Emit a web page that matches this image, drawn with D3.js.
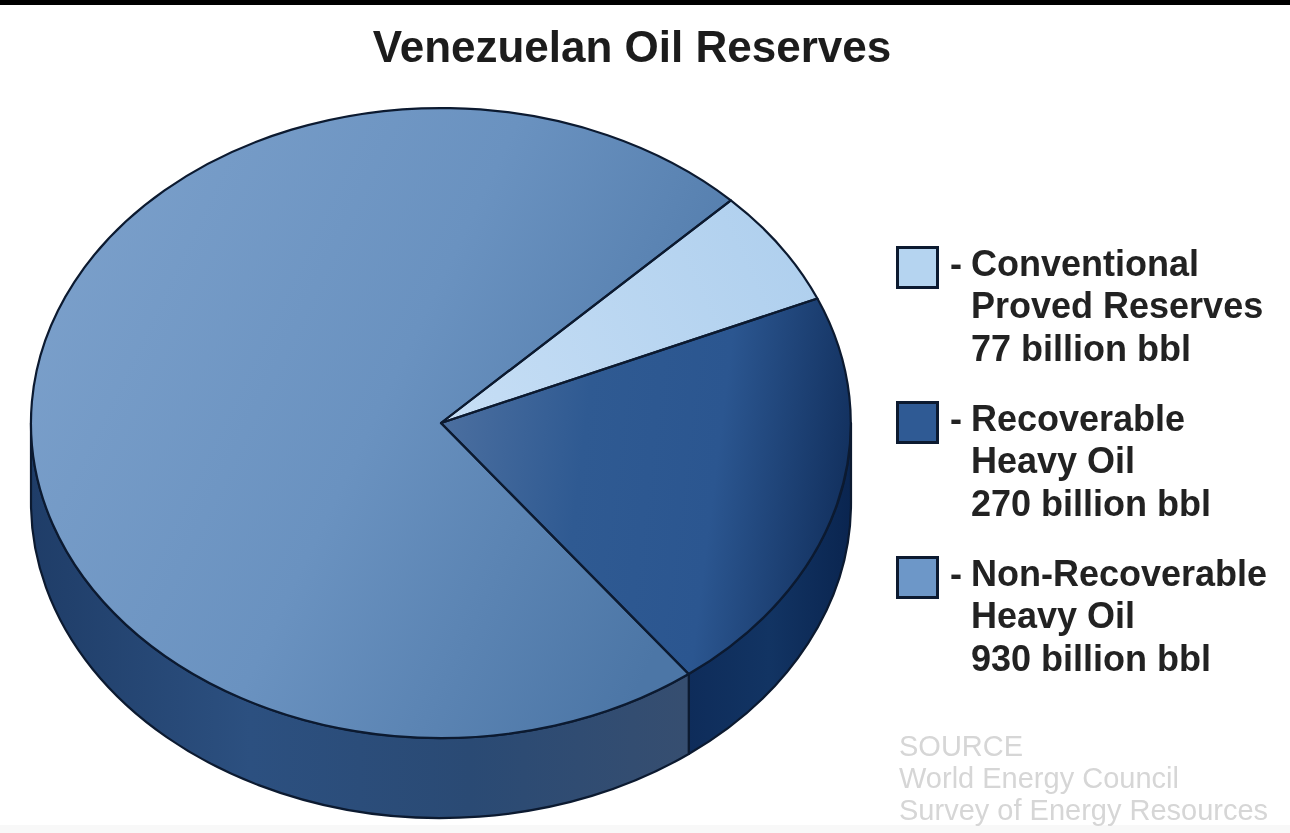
<!DOCTYPE html>
<html>
<head>
<meta charset="utf-8">
<script src="https://cdn.jsdelivr.net/npm/d3@7/dist/d3.min.js"></script>
<style>
html,body{margin:0;padding:0;background:#fff;overflow:hidden}
svg{display:block}
text{font-family:"Liberation Sans",Arial,sans-serif}
</style>
</head>
<body>
<svg id="chart" width="1290" height="833"></svg>
<script>
const title = "Venezuelan Oil Reserves";
const categories = ["Conventional Proved Reserves", "Recoverable Heavy Oil", "Non-Recoverable Heavy Oil"];
const reserves = [77, 270, 930];
const legendLines = [
  ["Conventional", "Proved Reserves", "77 billion bbl"],
  ["Recoverable", "Heavy Oil", "270 billion bbl"],
  ["Non-Recoverable", "Heavy Oil", "930 billion bbl"]
];
const sourceLines = ["SOURCE", "World Energy Council", "Survey of Energy Resources"];
const topStops = [["#c6def5", "#b0d0ee"], ["#4a6e9f", "#2f5a92", "#2b5690", "#12305e"], ["#7a9fca", "#6a92c0", "#4c76a6"]];
const wallStops = [["#8aa8c8", "#8aa8c8"], ["#0e2c5a", "#123463", "#0a2550"], ["#1f3d68", "#2c5080", "#2a4a74", "#364e70"]];
const swatchColors = ["#b5d4f0", "#2f5a94", "#6d97c8"];

const W = 1290, H = 833;
const cx = 441, cy = 423, rx = 410, ry = 315, depth = 80;
const outline = "#0c1a30";
const svg = d3.select("#chart");
const defs = svg.append("defs");

defs.append("filter").attr("id", "soft").attr("x", "-5%").attr("y", "-20%").attr("width", "110%").attr("height", "140%")
  .append("feGaussianBlur").attr("stdDeviation", 0.7);

const pie = d3.pie().sort(null).value(d => d)
  .startAngle(Math.PI / 4).endAngle(Math.PI / 4 + 2 * Math.PI);
const arcs = pie(reserves);

function grad(id, stops, x1, y1, x2, y2) {
  const g = defs.append("linearGradient").attr("id", id)
    .attr("gradientUnits", "userSpaceOnUse")
    .attr("x1", x1).attr("y1", y1).attr("x2", x2).attr("y2", y2);
  stops.forEach((s, i) => g.append("stop").attr("offset", i / (stops.length - 1)).attr("stop-color", s));
}
grad("top0", topStops[0], 450, 420, 800, 260);
grad("top1", topStops[1], 450, 420, 852, 470);
grad("top2", topStops[2], 60, 250, 700, 560);
grad("wall0", wallStops[0], cx - rx, 0, cx + rx, 0);
grad("wall1", wallStops[1], 688, 0, cx + rx, 0);
grad("wall2", wallStops[2], cx - rx, 0, 688, 0);

// page ground
svg.append("rect").attr("width", W).attr("height", H).attr("fill", "#fff");
svg.append("rect").attr("y", 825).attr("width", W).attr("height", 8).attr("fill", "#f8f8f8");
svg.append("rect").attr("width", W).attr("height", 5).attr("fill", "#000");

const px = a => cx + rx * Math.sin(a);
const py = a => cy - ry * Math.cos(a);

// side wall: only the front half of the ellipse (90deg to 270deg clockwise from north)
const front0 = Math.PI / 2, front1 = 3 * Math.PI / 2;
function wallPath(a0, a1) {
  const large = (a1 - a0) > Math.PI ? 1 : 0;
  return `M${px(a0)},${py(a0)}A${rx},${ry} 0 ${large} 1 ${px(a1)},${py(a1)}` +
         `L${px(a1)},${py(a1) + depth}A${rx},${ry} 0 ${large} 0 ${px(a0)},${py(a0) + depth}Z`;
}
const walls = arcs.map((d, i) => ({
  i,
  a0: Math.max(d.startAngle, front0),
  a1: Math.min(d.endAngle, front1)
})).filter(d => d.a1 > d.a0);

svg.append("g").selectAll("path").data(walls).join("path")
  .attr("d", d => wallPath(d.a0, d.a1))
  .attr("fill", d => `url(#wall${d.i})`)
  .attr("stroke", outline).attr("stroke-width", 2.2).attr("stroke-linejoin", "round");

// top face: unit-radius d3.arc clip shapes stretched onto the ellipse, painted with page-space gradients
const unitArc = d3.arc().innerRadius(0).outerRadius(1);
arcs.forEach((d, i) => {
  defs.append("clipPath").attr("id", "clip" + i)
    .append("path").attr("transform", `translate(${cx},${cy}) scale(${rx},${ry})`).attr("d", unitArc(d));
});
svg.append("g").selectAll("rect").data(arcs).join("rect")
  .attr("x", cx - rx).attr("y", cy - ry).attr("width", 2 * rx).attr("height", 2 * ry)
  .attr("clip-path", (d, i) => `url(#clip${i})`)
  .attr("fill", (d, i) => `url(#top${i})`);
svg.append("g").attr("transform", `translate(${cx},${cy}) scale(${rx},${ry})`)
  .selectAll("path").data(arcs).join("path")
  .attr("d", unitArc).attr("fill", "none")
  .attr("stroke", outline).attr("stroke-width", 2.2)
  .attr("vector-effect", "non-scaling-stroke").attr("stroke-linejoin", "round");

// title
svg.append("text").attr("x", 632).attr("y", 62).attr("text-anchor", "middle")
  .attr("font-size", 44).attr("font-weight", 700).attr("fill", "#1c1c1c")
  .attr("filter", "url(#soft)").text(title);

// legend
const legendY = d3.scalePoint().domain(categories).range([246, 556]);
const legend = svg.append("g").selectAll("g").data(categories).join("g")
  .attr("transform", d => `translate(896,${legendY(d)})`);
legend.append("rect").attr("x", 1.5).attr("y", 1.5).attr("width", 40).attr("height", 40)
  .attr("fill", (d, i) => swatchColors[i]).attr("stroke", outline).attr("stroke-width", 3);
legend.append("text").attr("x", 54).attr("y", 30)
  .attr("font-size", 36).attr("font-weight", 700).attr("fill", "#222")
  .attr("filter", "url(#soft)").text("-");
legend.each(function (d, i) {
  d3.select(this).selectAll("text.line").data(legendLines[i]).join("text")
    .attr("class", "line").attr("x", 75).attr("y", (l, j) => 29.5 + j * 42.5)
    .attr("font-size", 36).attr("font-weight", 700).attr("fill", "#222")
    .attr("filter", "url(#soft)").text(l => l);
});

// source
svg.append("g").selectAll("text").data(sourceLines).join("text")
  .attr("x", 899).attr("y", (d, i) => 756 + i * 32)
  .attr("font-size", 29).attr("fill", "#d6d6d6")
  .attr("filter", "url(#soft)").text(d => d);
</script>
</body>
</html>
